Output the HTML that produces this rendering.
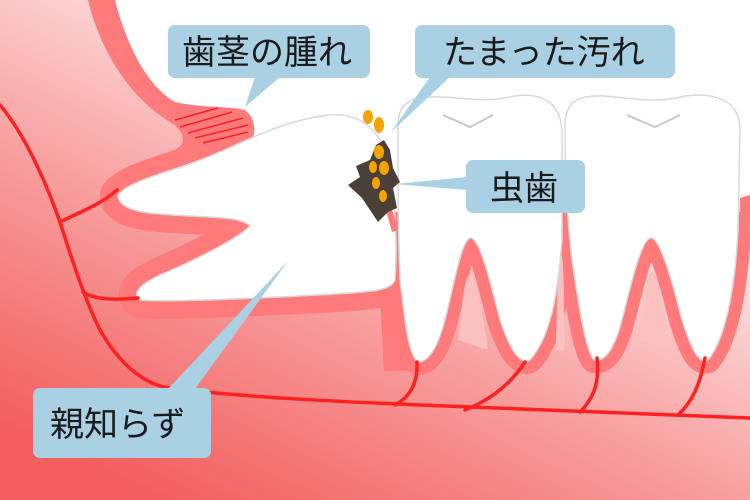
<!DOCTYPE html>
<html><head><meta charset="utf-8"><style>
html,body{margin:0;padding:0;background:#fff;}
svg{display:block;}
text{font-family:"Liberation Sans","Noto Sans CJK JP",sans-serif;font-size:34px;fill:#1a1a1a;}
</style></head><body>
<svg width="750" height="500" viewBox="0 0 750 500" xmlns="http://www.w3.org/2000/svg">
<defs>
<linearGradient id="g" gradientUnits="userSpaceOnUse" x1="400" y1="100" x2="200" y2="520">
<stop offset="0" stop-color="#fde0e0"/>
<stop offset="0.45" stop-color="#f8a0a0"/>
<stop offset="1" stop-color="#f35e5e"/>
</linearGradient>
<clipPath id="gum">
<path d="M0,0 L115,0 C125,40 145,85 175,102 C200,108 230,106 245,110 C255,118 256,130 252,140 L385,212 L555,212 C558,208 570,208 575,212 L740,212 L740,198 L750,195 L750,500 L0,500 Z"/>
</clipPath>
</defs>
<path d="M0,0 L115,0 C125,40 145,85 175,102 C200,108 230,106 245,110 C255,118 256,130 252,140 L385,212 L555,212 C558,208 570,208 575,212 L740,212 L740,198 L750,195 L750,500 L0,500 Z" fill="#ff7b7b"/>
<path d="M0,0 L88,0 C100,50 130,100 175,125 C190,140 185,150 150,160 L150,230 L400,230 L750,225 L750,500 L0,500 Z" fill="url(#g)"/>
<g fill="#ff7b7b" stroke="#ff7b7b" stroke-linejoin="round" clip-path="url(#gum)">
<path stroke-width="36" d="M118,195 C130,180 170,172 200,160 C240,145 280,120 330,115 C355,113 375,125 385,150 C395,190 398,240 395,280 C390,292 370,292 300,296 C220,300 160,302 140,300 C130,292 145,282 160,275 C200,258 238,238 250,226 C240,215 200,218 160,214 C130,212 118,205 118,195 Z"/>
<path stroke-width="26" d="M398,125 C398,100 415,96 440,97 C470,98 485,103 515,96 C545,92 560,105 562,130 L562,240 C558,290 552,335 530,360 C520,365 510,350 500,320 C490,280 480,240 471,238 C462,238 455,280 445,320 C437,350 428,362 418,362 C408,355 405,320 400,280 C398,230 398,180 398,125 Z"/>
<path stroke-width="26" d="M565,125 C565,100 580,95 605,96 C630,98 655,104 685,96 C715,92 740,100 740,130 L738,230 C735,290 725,340 708,360 C698,365 690,345 682,320 C672,280 660,238 651,238 C642,238 632,280 622,320 C614,350 605,362 594,360 C585,350 578,300 572,260 C567,220 565,170 565,125 Z"/>
<path stroke-width="2" d="M380,280 L405,280 L410,370 L385,370 Z"/>
</g>
<g fill="#fbc0c0">
<path d="M458,340 C462,300 465,275 470,275 C477,275 483,315 488,350 Z"/>
<path d="M640,340 C644,300 647,272 652,272 C659,272 665,315 670,350 Z"/>
<path d="M556,350 C557,300 558,255 561,255 C564,255 564,300 565,350 Z"/>
</g>
<g fill="#fff" stroke="#d8d8d8" stroke-width="1.5">
<path d="M398,125 C398,100 415,96 440,97 C470,98 485,103 515,96 C545,92 560,105 562,130 L562,240 C558,290 552,335 530,360 C520,365 510,350 500,320 C490,280 480,240 471,238 C462,238 455,280 445,320 C437,350 428,362 418,362 C408,355 405,320 400,280 C398,230 398,180 398,125 Z"/>
<path d="M565,125 C565,100 580,95 605,96 C630,98 655,104 685,96 C715,92 740,100 740,130 L738,230 C735,290 725,340 708,360 C698,365 690,345 682,320 C672,280 660,238 651,238 C642,238 632,280 622,320 C614,350 605,362 594,360 C585,350 578,300 572,260 C567,220 565,170 565,125 Z"/>
<path d="M118,195 C130,180 170,172 200,160 C240,145 280,120 330,115 C355,113 375,125 385,150 C395,190 398,240 395,280 C390,292 370,292 300,296 C220,300 160,302 140,300 C130,292 145,282 160,275 C200,258 238,238 250,226 C240,215 200,218 160,214 C130,212 118,205 118,195 Z"/>
</g>
<g fill="none" stroke="#c8c8c8" stroke-width="2">
<path d="M443,115 L470,127 L493,115"/>
<path d="M627,115 L655,127 L680,115"/>
</g>
<g stroke="#ff2020" stroke-width="1.5">
<line x1="175" y1="120" x2="218" y2="108"/>
<line x1="180" y1="127" x2="232" y2="112"/>
<line x1="188" y1="133" x2="243" y2="118"/>
<line x1="195" y1="138" x2="248" y2="125"/>
<line x1="203" y1="143" x2="248" y2="132"/>
</g>
<g fill="none" stroke="#ff2020" stroke-width="3.5" stroke-linecap="round">
<path d="M0,105 C25,135 45,180 60,222 C72,260 85,300 100,330 C120,365 145,385 170,388 C250,398 350,402 420,405 C550,410 650,414 750,418"/>
<path d="M60,222 C80,212 100,205 117,190"/>
<path d="M83,292 C95,300 115,300 138,298"/>
<path d="M417,362 C418,385 408,398 395,405"/>
<path d="M525,362 C510,385 490,400 465,410"/>
<path d="M597,358 C600,385 592,400 580,412"/>
<path d="M705,358 C700,385 692,402 678,415"/>
</g>
<path d="M383,200 L390,202 L398,230 L392,232 Z" fill="#ff7b7b"/>
<path d="M376,145 L384,140 L390,150 L393,168 L400,182 L393,188 L397,208 L388,212 L378,222 L370,210 L362,198 L348,185 L360,177 L356,166 L370,160 Z" fill="#4a4037"/>
<g fill="#f5a300">
<ellipse cx="368" cy="117" rx="5" ry="7"/>
<ellipse cx="379" cy="125" rx="5" ry="8"/>
<ellipse cx="379" cy="152" rx="5" ry="7"/>
<ellipse cx="373" cy="167" rx="4" ry="6"/>
<ellipse cx="384" cy="168" rx="5" ry="7"/>
<ellipse cx="376" cy="183" rx="4" ry="6"/>
<ellipse cx="383" cy="196" rx="4" ry="6"/>
</g>
<g fill="#a9d0e3">
<rect x="168" y="25" width="202" height="53" rx="7"/>
<polygon points="255,77 280,77 245,107"/>
<rect x="415" y="25" width="260" height="53" rx="7"/>
<polygon points="430,77 450,77 391,132"/>
<rect x="466" y="160" width="119" height="53" rx="7"/>
<polygon points="467,177 467,190 395,184"/>
<rect x="33" y="388" width="178" height="70" rx="7"/>
<polygon points="168,389 195,389 288,261"/>
</g>
<text x="182" y="64">歯茎の腫れ</text>
<text x="443" y="64">たまった汚れ</text>
<text x="490" y="200">虫歯</text>
<text x="50" y="436">親知らず</text>
</svg>
</body></html>
